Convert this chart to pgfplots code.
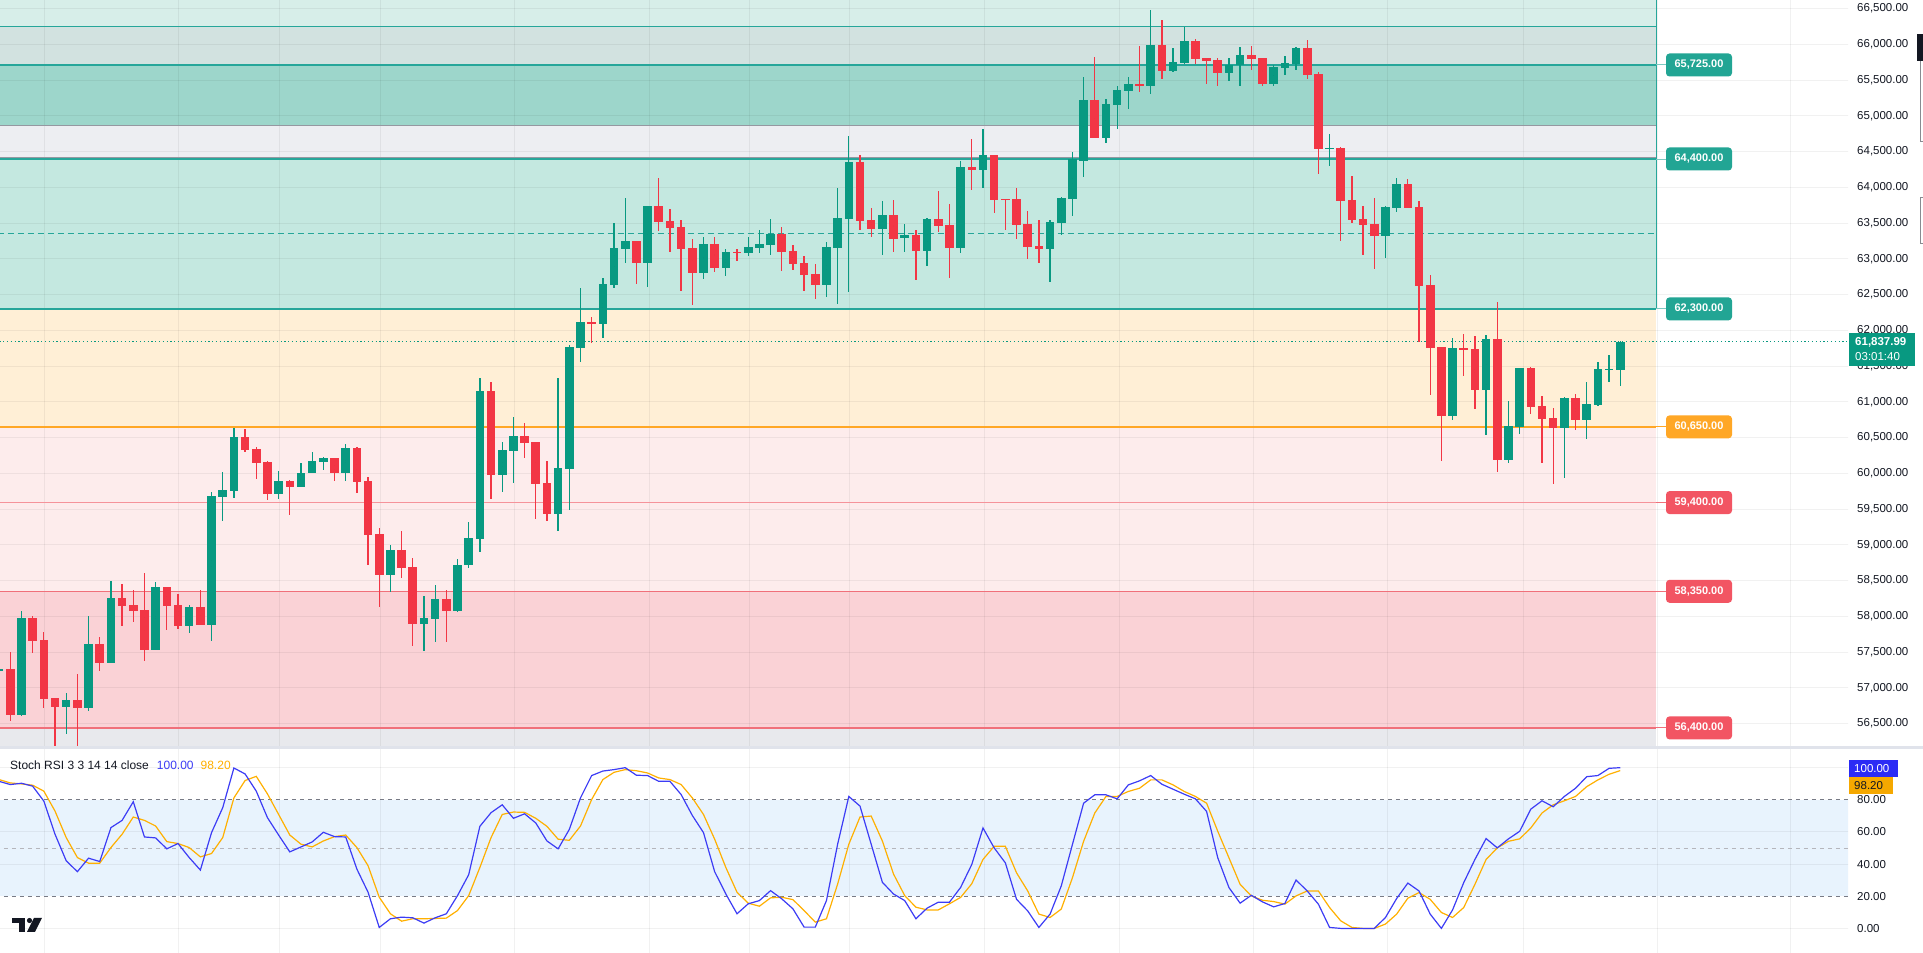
\documentclass[border=0pt]{standalone}
\usepackage{pgfplots}
\pgfplotsset{compat=1.18}
\usepackage{pgfplotstable}
\usepackage{fontspec}
\setmainfont{Liberation Sans}
\definecolor{cgreen}{HTML}{089981}
\definecolor{cred}{HTML}{F23645}
\definecolor{zA}{HTML}{D7EEE9}
\definecolor{zB}{HTML}{D2E2E0}
\definecolor{zC}{HTML}{9DD6CB}
\definecolor{zD}{HTML}{EDEEF2}
\definecolor{zE}{HTML}{C4E8E0}
\definecolor{zF}{HTML}{FFEFD6}
\definecolor{zG}{HTML}{FDECEC}
\definecolor{zH}{HTML}{FAD2D6}
\definecolor{zI}{HTML}{E8E9ED}
\definecolor{lgreen}{HTML}{26A69A}
\definecolor{lgrey}{HTML}{9598A1}
\definecolor{lorange}{HTML}{FFA726}
\definecolor{rline}{HTML}{F0707A}
\definecolor{rlight}{HTML}{F5939A}
\definecolor{rbox}{HTML}{F25563}
\definecolor{gbox}{HTML}{22A594}
\definecolor{txt}{HTML}{131722}
\definecolor{kblue}{HTML}{3C3CF5}
\definecolor{kbox}{HTML}{2B2BF5}
\definecolor{dorange}{HTML}{FFB000}
\definecolor{dbox}{HTML}{F5A800}
\definecolor{band}{HTML}{E8F3FD}
\definecolor{dashc}{HTML}{787B86}
\definecolor{sep}{HTML}{E0E3EB}

\pgfplotstableread{
i o h l c
-1 57245 57270 57235 57259
0 57259 57497 56541 56625
1 56625 58075 56611 57977
2 57977 58005 57492 57660
3 57665 57777 56718 56849
4 56854 56854 56177 56737
5 56737 56923 56355 56826
6 56826 57194 56177 56718
7 56718 58005 56681 57613
8 57613 57716 57240 57352
9 57352 58494 57352 58257
10 58257 58452 57870 58149
11 58159 58373 57926 58080
12 58089 58602 57380 57529
13 57529 58480 57529 58410
14 58410 58410 57809 58149
15 58159 58313 57828 57870
16 57870 58154 57772 58131
17 58131 58369 57884 57884
18 57884 59735 57655 59683
19 59674 60024 59338 59767
20 59758 60639 59660 60504
21 60509 60621 60304 60327
22 60341 60374 59921 60150
23 60159 60173 59632 59716
24 59716 60033 59646 59893
25 59893 59901 59423 59814
26 59814 60145 59805 60005
27 60005 60299 60005 60173
28 60164 60234 60047 60215
29 60215 60215 59898 60010
30 60010 60411 59898 60355
31 60355 60369 59730 59884
32 59893 59945 58723 59143
33 59152 59236 58136 58583
34 58583 58998 58341 58928
35 58928 59194 58541 58681
36 58691 58812 57590 57898
37 57898 58285 57520 57977
38 57968 58439 57646 58243
39 58243 58369 57646 58080
40 58080 58803 58066 58719
41 58714 59320 58672 59096
42 59087 61340 58905 61152
43 61152 61278 59647 59982
44 59982 60439 59744 60327
45 60318 60789 59870 60523
46 60523 60705 60220 60430
47 60439 60439 59367 59856
48 59866 60173 59339 59437
49 59437 61333 59199 60070
50 60066 61795 59487 61767
51 61757 62592 61557 62116
52 62116 62186 61827 62093
53 62093 62732 61897 62648
54 62639 63501 62597 63151
55 63142 63851 62942 63249
56 63249 63249 62653 62946
57 62946 63739 62611 63739
58 63739 64130 63394 63520
59 63529 63697 63100 63436
60 63445 63543 62555 63142
61 63151 63277 62359 62806
62 62806 63305 62723 63207
63 63207 63305 62820 62876
64 62876 63137 62765 63095
65 63095 63137 62974 63086
66 63086 63305 63044 63165
67 63156 63403 63086 63207
68 63198 63557 63058 63352
69 63352 63445 62834 63100
70 63110 63193 62848 62932
71 62942 63039 62555 62778
72 62788 62928 62443 62639
73 62639 63235 62471 63165
74 63156 63991 62373 63571
75 63562 64720 62541 64354
76 64354 64452 63408 63534
77 63543 63711 63310 63422
78 63423 63809 63059 63614
79 63614 63823 63101 63283
80 63297 63488 63101 63334
81 63334 63404 62709 63115
82 63115 63572 62905 63558
83 63558 63954 63381 63464
84 63474 63767 62737 63157
85 63157 64369 63087 64285
86 64285 64677 63968 64248
87 64248 64816 63996 64453
88 64453 64453 63646 63828
89 63837 63837 63409 63828
90 63837 63991 63283 63478
91 63488 63670 63003 63171
92 63185 63544 62947 63143
93 63143 63544 62681 63516
94 63507 63865 63339 63852
95 63842 64495 63604 64394
96 64373 65543 64149 65221
97 65221 65823 64695 64695
98 64695 65235 64625 65165
99 65152 65417 64820 65361
100 65352 65543 65100 65445
101 65445 65977 65338 65422
102 65422 66480 65310 65991
103 65991 66340 65520 65632
104 65632 65949 65618 65753
105 65744 66242 65730 66047
106 66047 66075 65730 65799
107 65809 65809 65450 65772
108 65781 65809 65422 65604
109 65604 65809 65492 65716
110 65706 65963 65422 65851
111 65851 65977 65646 65800
112 65809 65809 65422 65450
113 65450 65711 65422 65683
114 65674 65837 65576 65739
115 65730 65963 65646 65949
116 65949 66061 65520 65576
117 65590 65618 64191 64541
118 64541 64746 64303 64555
119 64555 64569 63254 63813
120 63823 64158 63506 63548
121 63557 63739 63058 63478
122 63487 63851 62862 63324
123 63324 63739 63016 63725
124 63716 64130 63660 64046
125 64046 64116 63716 63716
126 63725 63813 61832 62625
127 62634 62774 61100 61758
128 61767 61767 60177 60807
129 60807 61893 60751 61753
130 61753 61949 61366 61730
131 61739 61921 60904 61170
132 61170 61935 60541 61879
133 61879 62396 60023 60191
134 60191 61012 60149 60667
135 60653 61473 60555 61473
136 61473 61487 60835 60932
137 60942 61082 60149 60765
138 60779 60918 59856 60639
139 60639 61068 59940 61054
140 61054 61110 60611 60751
141 60751 61277 60485 60970
142 60961 61557 60947 61459
143 61450 61655 61282 61459
144 61450 61851 61226 61838
}\candles

\pgfplotstableread{
i k d
-1 91.5 92.6
0 89.5 90.5
1 90.3 89.9
2 88.5 89.1
3 79.2 85.4
4 58.6 73.0
5 42.1 56.5
6 35.3 44.1
7 43.7 40.6
8 41.6 40.6
9 62.7 50.3
10 67.2 58.6
11 78.8 69.3
12 56.9 67.2
13 56.3 63.7
14 49.5 54.0
15 52.8 52.8
16 44.1 50.3
17 36.3 44.5
18 59.6 46.6
19 75.1 56.5
20 99.8 81.2
21 96.1 92.0
22 85.4 94.6
23 68.9 83.7
24 58.1 70.9
25 47.6 58.1
26 50.7 52.4
27 53.8 50.7
28 59.8 54.4
29 57.1 57.1
30 56.9 58.1
31 36.9 50.3
32 22.5 39.0
33 0.6 19.4
34 6.0 9.1
35 7.0 4.5
36 6.6 6.0
37 3.3 6.0
38 6.6 6.2
39 9.1 6.4
40 20.4 11.1
41 33.4 20.4
42 63.5 37.9
43 72.0 56.5
44 76.9 70.9
45 68.5 72.4
46 71.3 72.2
47 65.6 68.5
48 54.4 63.5
49 49.5 55.5
50 61.6 54.8
51 81.2 63.7
52 95.1 80.2
53 97.9 92.6
54 98.8 97.1
55 100 98.8
56 95.3 98.1
57 95.1 96.7
58 91.5 93.6
59 91.5 92.6
60 83.3 89.5
61 70.3 81.2
62 59.6 70.9
63 35.3 55.5
64 21.4 37.9
65 9.1 22.5
66 15.3 15.7
67 17.3 13.8
68 23.5 19.0
69 18.4 19.4
70 12.2 17.9
71 0.8 11.1
72 0.8 3.9
73 17.3 6.0
74 52.4 27.6
75 82.1 52.4
76 76.1 69.3
77 52.4 69.9
78 28.7 54.4
79 21.4 33.8
80 17.3 20.4
81 6.0 13.2
82 12.6 11.5
83 16.3 11.5
84 16.3 15.3
85 25.5 19.3
86 39.8 27.8
87 62.5 42.9
88 50.1 51.1
89 40.8 51.1
90 18.1 34.6
91 10.9 23.3
92 0.6 8.9
93 8.9 6.8
94 26.4 12.0
95 52.2 31.5
96 77.9 54.2
97 83.1 71.8
98 83.1 82.1
99 80.6 82.1
100 89.3 85.2
101 91.8 87.2
102 95.1 92.4
103 89.7 92.4
104 86.6 89.3
105 83.5 85.2
106 80.6 82.1
107 72.8 77.9
108 43.9 60.4
109 25.4 43.9
110 15.7 27.4
111 20.6 20.2
112 16.5 17.5
113 13.4 16.7
114 15.5 15.1
115 30.1 20.2
116 23.3 23.3
117 15.1 23.3
118 0.6 13.0
119 0 4.7
120 0 0.6
121 0 0
122 0 0
123 6.8 2.7
124 18.6 8.9
125 28.2 18.8
126 23.3 22.3
127 8.9 18.1
128 0 9.9
129 11.5 6.8
130 28.5 13.0
131 42.9 27.4
132 55.9 42.9
133 50.1 50.1
134 55.7 54.2
135 60.4 55.7
136 74.2 62.5
137 79.4 71.8
138 75.7 76.9
139 82.1 79.4
140 87.2 82.1
141 94.4 88.2
142 95.1 92.4
143 99.6 95.9
144 100 98.2
}\stoch

\tikzset{gridline/.style={draw=black, opacity=0.055, line width=1pt}}
\pgfplotsset{candle/.style={only marks, mark size=0pt, mark options={draw=none, fill=none},
  error bars/y dir=both, error bars/y explicit, error bars/error mark=none}}

\begin{document}
\begin{tikzpicture}[x=1pt,y=1pt]
\path[use as bounding box] (0,0) rectangle (1923,953);
\fill[white] (0,0) rectangle (1923,953);

% ---------------- main price panel ----------------
\begin{axis}[
  at={(0pt,207pt)}, anchor=south west, scale only axis,
  width=1848pt, height=746pt,
  xmin=-0.921, xmax=164.37, ymin=56187, ymax=66620,
  axis line style={draw=none}, tick style={draw=none},
  xtick=\empty,
  ytick={56500,57000,57500,58000,58500,59000,59500,60000,60500,61000,61500,62000,62500,63000,63500,64000,64500,65000,65500,66000,66500},
  yticklabel pos=right,
  scaled y ticks=false,
  yticklabel style={font=\fontsize{11.5}{13}\selectfont, text=txt, anchor=west, inner sep=0pt, xshift=9pt,
    /pgf/number format/fixed, /pgf/number format/fixed zerofill, /pgf/number format/precision=2,
    /pgf/number format/1000 sep={,}, /pgf/number format/assume math mode=true},
]
% zones
\fill[zA] (axis cs:-2,66256) rectangle (axis cs:147.22,66700);
\fill[zB] (axis cs:-2,65711) rectangle (axis cs:147.22,66256);
\fill[zC] (axis cs:-2,64862) rectangle (axis cs:147.22,65711);
\fill[zD] (axis cs:-2,64396) rectangle (axis cs:147.22,64862);
\fill[zE] (axis cs:-2,62300) rectangle (axis cs:147.22,64396);
\fill[zF] (axis cs:-2,60650) rectangle (axis cs:147.22,62300);
\fill[zG] (axis cs:-2,58350) rectangle (axis cs:147.22,60650);
\fill[zH] (axis cs:-2,56440) rectangle (axis cs:147.22,58350);
\fill[zI] (axis cs:-2,56100) rectangle (axis cs:147.22,56440);
% grid
\pgfplotsinvokeforeach{56500,57000,57500,58000,58500,59000,59500,60000,60500,61000,61500,62000,62500,63000,63500,64000,64500,65000,65500,66000,66500}{\draw[gridline] (axis cs:-2,#1) -- (axis cs:170,#1);}
\pgfplotsinvokeforeach{3.04,15.06,24.06,33.1,45.1,57.2,66.1,75.1,87.1,99.2,111.2,123.2,135.3,147.3,159.2}{\draw[gridline] (axis cs:#1,56000) -- (axis cs:#1,67000);}
% level lines
\draw[lgreen, line width=1pt] (axis cs:-2,66256) -- (axis cs:147.22,66256);
\draw[lgreen, line width=2pt] (axis cs:-2,65711) -- (axis cs:147.22,65711);
\draw[lgrey, line width=1.5pt] (axis cs:-2,64862) -- (axis cs:147.22,64862);
\draw[lgrey, line width=1pt] (axis cs:-2,64414) -- (axis cs:147.22,64414);
\draw[lgreen, line width=1.5pt] (axis cs:-2,64396) -- (axis cs:147.22,64396);
\draw[lgreen, line width=1pt, dash pattern=on 6pt off 4pt] (axis cs:-2,63356) -- (axis cs:147.22,63356);
\draw[lgreen, line width=1.5pt] (axis cs:-2,62300) -- (axis cs:147.22,62300);
\draw[lorange, line width=1.5pt] (axis cs:-2,60650) -- (axis cs:147.22,60650);
\draw[rlight, line width=1.2pt] (axis cs:-2,59590) -- (axis cs:147.22,59590);
\draw[rline, line width=1.2pt] (axis cs:-2,58350) -- (axis cs:147.22,58350);
\draw[rline, line width=1.5pt] (axis cs:-2,56440) -- (axis cs:147.22,56440);
\draw[lgreen, line width=1.2pt] (axis cs:147.22,62300) -- (axis cs:147.22,66700);
% connectors to labels
\draw[lgreen!60, line width=1pt] (axis cs:147.22,65711) -- (axis cs:148.2,65711);
\draw[lgreen!60, line width=1pt] (axis cs:147.22,64396) -- (axis cs:148.2,64396);
\draw[lgreen!60, line width=1pt] (axis cs:147.22,62300) -- (axis cs:148.2,62300);
\draw[lorange, line width=1pt] (axis cs:147.22,60650) -- (axis cs:148.2,60650);
\draw[rline, line width=1pt] (axis cs:147.22,59590) -- (axis cs:148.2,59590);
\draw[rline, line width=1pt] (axis cs:147.22,58350) -- (axis cs:148.2,58350);
\draw[rline, line width=1pt] (axis cs:147.22,56440) -- (axis cs:148.2,56440);
% current price line
\draw[cgreen, line width=1pt, dash pattern=on 1.2pt off 2.6pt] (axis cs:-2,61838) -- (axis cs:170,61838);
% candles: wicks
\addplot[candle, restrict expr to domain={\thisrow{c}-\thisrow{o}}{0:100000},
  error bars/error bar style={draw=cgreen, line width=1.3pt}]
  table[x=i, y expr={(\thisrow{h}+\thisrow{l})/2}, y error expr={(\thisrow{h}-\thisrow{l})/2}] {\candles};
\addplot[candle, restrict expr to domain={\thisrow{c}-\thisrow{o}}{-100000:-0.001},
  error bars/error bar style={draw=cred, line width=1.3pt}]
  table[x=i, y expr={(\thisrow{h}+\thisrow{l})/2}, y error expr={(\thisrow{h}-\thisrow{l})/2}] {\candles};
% candles: bodies
\addplot[candle, restrict expr to domain={\thisrow{c}-\thisrow{o}}{0:100000},
  error bars/error bar style={draw=cgreen, line width=8.6pt}]
  table[x=i, y expr={(\thisrow{o}+\thisrow{c})/2}, y error expr={max(abs(\thisrow{c}-\thisrow{o})/2,7)}] {\candles};
\addplot[candle, restrict expr to domain={\thisrow{c}-\thisrow{o}}{-100000:-0.001},
  error bars/error bar style={draw=cred, line width=8.6pt}]
  table[x=i, y expr={(\thisrow{o}+\thisrow{c})/2}, y error expr={max(abs(\thisrow{c}-\thisrow{o})/2,7)}] {\candles};
\end{axis}

% zone labels
\tikzset{zlab/.style={rounded corners=3.5pt, minimum width=66pt, minimum height=23pt, inner sep=0pt, text=white, font=\bfseries\fontsize{11}{12}\selectfont}}
\node[zlab, fill=gbox] at (1699,888) {65,725.00};
\node[zlab, fill=gbox] at (1699,794) {64,400.00};
\node[zlab, fill=gbox] at (1699,644.1) {62,300.00};
\node[zlab, fill=lorange] at (1699,526.1) {60,650.00};
\node[zlab, fill=rbox] at (1699,450.4) {59,400.00};
\node[zlab, fill=rbox] at (1699,361.7) {58,350.00};
\node[zlab, fill=rbox] at (1699,225.1) {56,400.00};

% current price box
\fill[cgreen] (1849,587) rectangle (1915,620);
\node[anchor=west, inner sep=0pt, text=white, font=\bfseries\fontsize{11.5}{12}\selectfont] at (1855,611) {61,837.99};
\node[anchor=west, inner sep=0pt, text=white, font=\fontsize{11.5}{12}\selectfont] at (1855,596) {03:01:40};

% top-right widget
\fill[txt] (1917,892) rectangle (1923,919);
\draw[txt!50, line width=0.8pt] (1920,892) -- (1920,812) -- (1923,812);
\draw[txt!50, line width=0.8pt] (1923,756) -- (1920,756) -- (1920,710) -- (1923,710);

% panel separator
\fill[sep] (0,203.5) rectangle (1923,206.5);

% ---------------- Stoch RSI panel ----------------
\begin{axis}[
  at={(0pt,0pt)}, anchor=south west, scale only axis,
  width=1848pt, height=203pt,
  xmin=-0.921, xmax=164.37, ymin=-15.3, ymax=111.0,
  axis line style={draw=none}, tick style={draw=none},
  xtick=\empty,
  ytick={0,20,40,60,80},
  yticklabel pos=right,
  yticklabel style={font=\fontsize{11.5}{13}\selectfont, text=txt, anchor=west, inner sep=0pt, xshift=9pt,
    /pgf/number format/fixed, /pgf/number format/fixed zerofill, /pgf/number format/precision=2,
    /pgf/number format/assume math mode=true},
]
\fill[band] (axis cs:-2,20) rectangle (axis cs:170,80);
\pgfplotsinvokeforeach{0,40,60,100}{\draw[gridline] (axis cs:-2,#1) -- (axis cs:170,#1);}
\pgfplotsinvokeforeach{3.04,15.06,24.06,33.1,45.1,57.2,66.1,75.1,87.1,99.2,111.2,123.2,135.3,147.3,159.2}{\draw[gridline] (axis cs:#1,-20) -- (axis cs:#1,120);}
\draw[dashc, line width=1pt, dash pattern=on 4pt off 4pt] (axis cs:-2,80) -- (axis cs:170,80);
\draw[dashc, line width=1pt, dash pattern=on 4pt off 4pt] (axis cs:-2,20) -- (axis cs:170,20);
\draw[dashc!55, line width=1pt, dash pattern=on 4pt off 4pt] (axis cs:-2,50) -- (axis cs:170,50);
\addplot[dorange, line width=1.2pt] table[x=i, y=d] {\stoch};
\addplot[kblue, line width=1.2pt] table[x=i, y=k] {\stoch};
\end{axis}

% Stoch RSI value boxes
\fill[kbox] (1849,176) rectangle (1898,193);
\node[anchor=west, inner sep=0pt, text=white, font=\fontsize{11.5}{12}\selectfont] at (1854,184.5) {100.00};
\fill[dbox] (1849,159) rectangle (1893,176);
\node[anchor=west, inner sep=0pt, text=txt, font=\fontsize{11.5}{12}\selectfont] at (1854,167.5) {98.20};

% legend
\node[anchor=west, inner sep=0pt, text=txt, font=\fontsize{12}{14}\selectfont] at (10,188)
  {Stoch RSI 3 3 14 14 close\hspace{8pt}\textcolor{kblue}{100.00}\hspace{7pt}\textcolor{dorange}{98.20}};

% TradingView logo
\fill[txt] (12,35) rectangle (25,30);
\fill[txt] (19,35) rectangle (25,21);
\fill[txt] (29.5,32.5) circle (2.6);
\fill[txt] (34,35) -- (42,35) -- (35,21) -- (27,21) -- cycle;
\end{tikzpicture}
\end{document}
